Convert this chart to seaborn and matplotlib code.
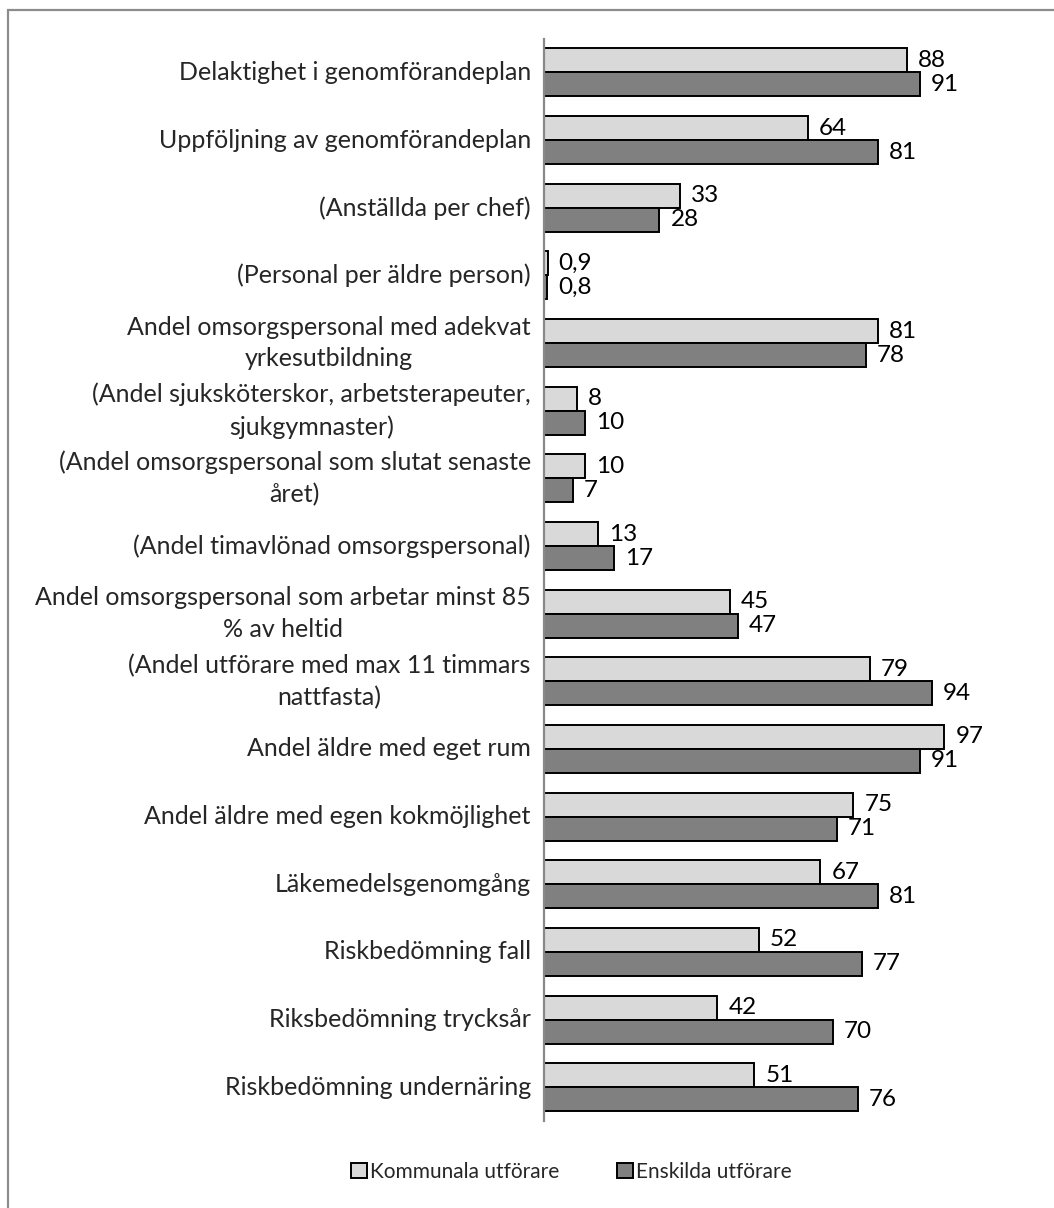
import matplotlib
matplotlib.use("Agg")
import matplotlib.pyplot as plt
import matplotlib.patches as mpatches
import matplotlib.transforms as mtransforms
import seaborn as sns
import pandas as pd

categories = [
    "Delaktighet i genomförandeplan",
    "Uppföljning av genomförandeplan",
    "(Anställda per chef)",
    "(Personal per äldre person)",
    "Andel omsorgspersonal med adekvat\nyrkesutbildning",
    "(Andel sjuksköterskor, arbetsterapeuter,\nsjukgymnaster)",
    "(Andel omsorgspersonal som slutat senaste\nåret)",
    "(Andel timavlönad omsorgspersonal)",
    "Andel omsorgspersonal som arbetar minst 85\n% av heltid",
    "(Andel utförare med max 11 timmars\nnattfasta)",
    "Andel äldre med eget rum",
    "Andel äldre med egen kokmöjlighet",
    "Läkemedelsgenomgång",
    "Riskbedömning fall",
    "Riksbedömning trycksår",
    "Riskbedömning undernäring",
]
kommunala = [88, 64, 33, 0.9, 81, 8, 10, 13, 45, 79, 97, 75, 67, 52, 42, 51]
enskilda = [91, 81, 28, 0.8, 78, 10, 7, 17, 47, 94, 91, 71, 81, 77, 70, 76]
series_names = ["Kommunala utförare", "Enskilda utförare"]
colors = ["#d9d9d9", "#808080"]

df = pd.DataFrame({
    "kategori": categories * 2,
    "värde": kommunala + enskilda,
    "utförare": [series_names[0]] * len(categories) + [series_names[1]] * len(categories),
})

sns.set_theme(style="white")
plt.rcParams["font.family"] = ["Lato", "DejaVu Sans"]

fig = plt.figure(figsize=(10.54, 12.08), dpi=100)
ax = fig.add_axes([0.516, 0.072, 0.470, 0.896])

sns.barplot(data=df, x="värde", y="kategori", hue="utförare", orient="h",
            palette=colors, width=0.71, gap=0, edgecolor="black",
            linewidth=1.4, ax=ax, legend=False, errorbar=None)

def fmt(v):
    s = f"{v:g}"
    return s.replace(".", ",")

for cont, vals in zip(ax.containers, [kommunala, enskilda]):
    ax.bar_label(cont, labels=[fmt(v) for v in vals], padding=8,
                 fontsize=17.5, color="black")

ax.set_xlim(0, 120)
ax.set_ylim(len(categories) - 0.5, -0.5)
ax.set_xlabel("")
ax.set_ylabel("")
ax.set_xticks([])
ax.tick_params(axis="y", length=0, labelleft=False)

# category labels, centred multi-line blocks right-aligned against the axis
label_tf = mtransforms.blended_transform_factory(ax.transAxes, ax.transData) + \
    mtransforms.ScaledTranslation(-13 / 100, 0, fig.dpi_scale_trans)
for i, name in enumerate(categories):
    ax.text(0, i, name, transform=label_tf, ha="right", va="center",
            multialignment="center", linespacing=1.45, fontsize=18)

for side in ["top", "right", "bottom"]:
    ax.spines[side].set_visible(False)
ax.spines["left"].set_color("#888888")
ax.spines["left"].set_linewidth(1.6)

handles = [mpatches.Patch(facecolor=c, edgecolor="black", linewidth=1.4, label=n)
           for c, n in zip(colors, series_names)]
fig.legend(handles=handles, loc="center", bbox_to_anchor=(0.542, 1 - 1172 / 1208),
           ncol=2, frameon=False, fontsize=15, handlelength=0.75, handleheight=0.75,
           handletextpad=0.15, columnspacing=2.8)

fig.add_artist(mpatches.Rectangle((0.0076, -0.05), 1.1, 1.05 - 10 / 1208,
                                  transform=fig.transFigure, fill=False,
                                  edgecolor="#8c8c8c", linewidth=1.6))

fig.savefig("out.png", dpi=100)
